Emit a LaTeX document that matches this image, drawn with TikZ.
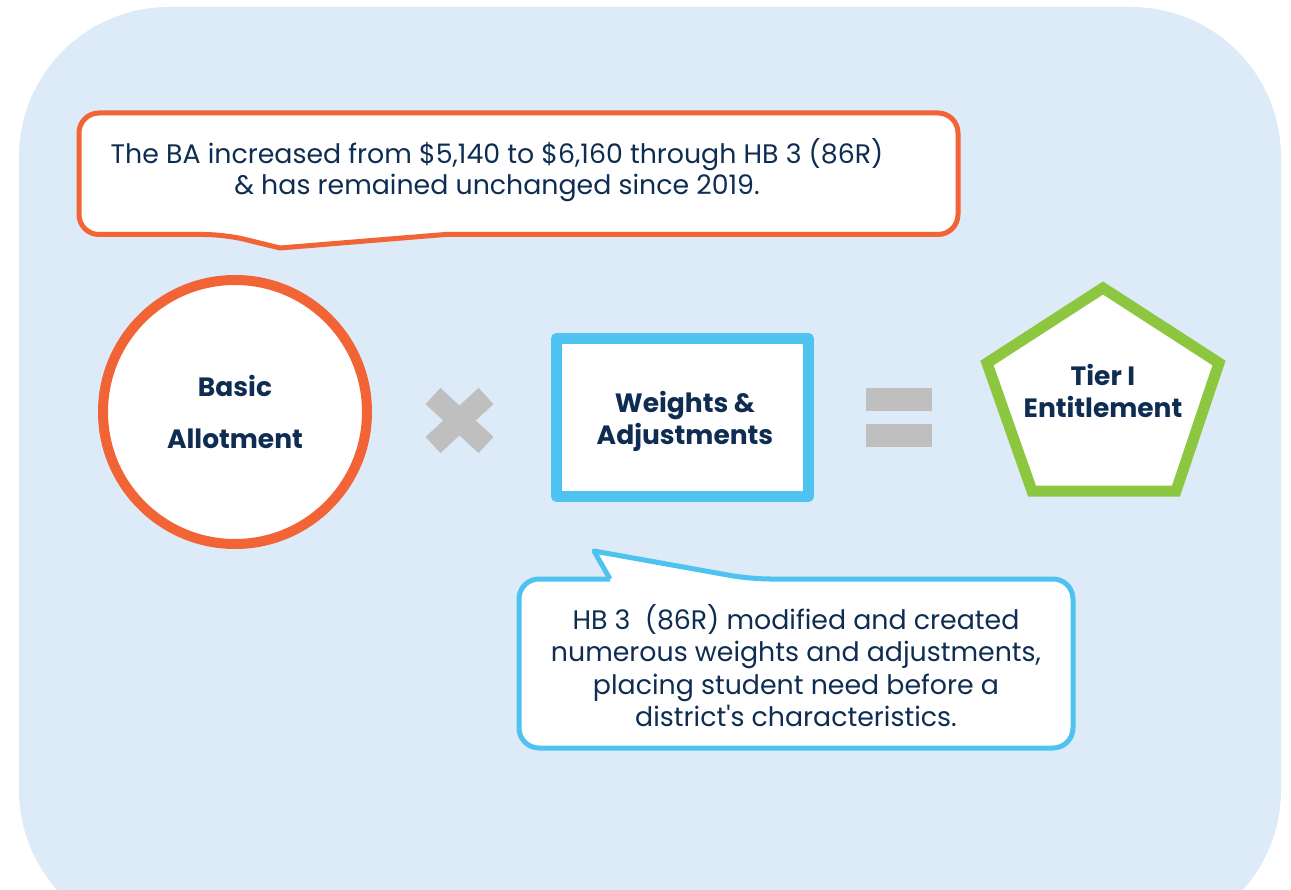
\documentclass[tikz,border=0pt]{standalone}
\usepackage{fontspec}
\setmainfont{Poppins}
\newfontfamily\plainp{Poppins}
\definecolor{bgblue}{HTML}{DDEAF7}
\definecolor{orng}{HTML}{F26436}
\definecolor{sky}{HTML}{4FC3F0}
\definecolor{grn}{HTML}{8DC63F}
\definecolor{gry}{HTML}{BFBFBF}
\definecolor{navy}{HTML}{0F2D52}
\begin{document}
\begin{tikzpicture}[x=1pt,y=-1pt,
  bodytext/.style={text=navy,font=\fontsize{26.8}{31}\selectfont,align=center,inner sep=0pt},
  headtext/.style={text=navy,font=\fontsize{26.5}{32}\selectfont\bfseries,align=center,inner sep=0pt},
  line join=round]
\useasboundingbox (0,0) rectangle (1291,890);
% background panel
\fill[bgblue,rounded corners=150pt] (19,7) rectangle (1281,940);
\fill[white] (0,890) rectangle (1291,950);
% top callout
\draw[orng,line width=5pt,fill=white,rounded corners=20pt]
  (445,234.5) -- (958,234.5) -- (958,113) -- (79,113) -- (79,234.5) -- (225,234.5)
  [sharp corners] -- (280,248) -- (445,234.5);
\node[bodytext] (ba) at (497,170) {The BA increased from \$5,140 to \$6,160 through HB 3 (86R)\\ \& has remained unchanged since 2019.};
% bottom callout
\draw[sky,line width=5pt,fill=white,rounded corners=20pt]
  (610,579) -- (519,579) -- (519,748) -- (1073,748) -- (1073,579) -- (750,579)
  [sharp corners] -- (594,551) -- (610,579);
\node[bodytext,font=\fontsize{26.8}{32.3}\selectfont] (hb) at (796,665.5) {HB 3\ \ (86R) modified and created\\ numerous weights and adjustments,\\ placing student need before a\\ district{\plainp'}s characteristics.};
% basic allotment circle
\node[circle,draw=orng,line width=10pt,fill=white,minimum size=264pt,inner sep=0pt] (circ) at (235,412) {};
\node[headtext,font=\fontsize{26.5}{52}\selectfont\bfseries] (balabel) at (235,412) {Basic\\ Allotment};
% times sign
\coordinate (xc) at (459.5,420.5);
\draw[gry,line width=22pt,line cap=butt] (433,396) -- (486,445);
\draw[gry,line width=22pt,line cap=butt] (486,396) -- (433,445);
% weights square
\node[rectangle,draw=sky,line width=11pt,fill=white,minimum width=252pt,minimum height=158pt,inner sep=0pt] (sq) at (682.5,417.5) {};
\node[headtext] (wa) at (685,421) {Weights \&\\ Adjustments};
% equals sign
\fill[gry] (866,388) rectangle (932,411);
\fill[gry] (866,424) rectangle (932,447);
% pentagon
\draw[grn,line width=11pt,fill=white,line join=miter]
  (1103,288) -- (1219,363) -- (1176,491) -- (1032,491) -- (987,363) -- cycle;
\node[headtext] (tier) at (1103,391) {Tier I\\ Entitlement};
\end{tikzpicture}
\end{document}
